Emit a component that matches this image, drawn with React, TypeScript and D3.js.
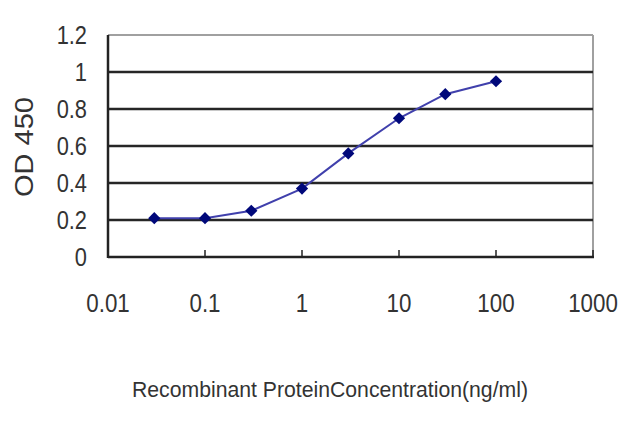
import React, { useEffect, useRef } from 'react';
import * as d3 from 'd3';

const concentrations = [0.03, 0.1, 0.3, 1, 3, 10, 30, 100];
const odValues = [0.21, 0.21, 0.25, 0.37, 0.56, 0.75, 0.88, 0.95];
const xTicks = [0.01, 0.1, 1, 10, 100, 1000];
const xTickLabels = ['0.01', '0.1', '1', '10', '100', '1000'];
const yTicks = [0, 0.2, 0.4, 0.6, 0.8, 1, 1.2];
const yTickLabels = ['0', '0.2', '0.4', '0.6', '0.8', '1', '1.2'];

const App = () => {
  const ref = useRef(null);

  useEffect(() => {
    if (!ref.current) return;
    const svg = d3.select(ref.current);
    svg.selectAll('*').remove();

    const left = 108, right = 593, top = 35, bottom = 257;
    const x = d3.scaleLog().domain([0.01, 1000]).range([left, right]);
    const y = d3.scaleLinear().domain([0, 1.2]).range([bottom, top]);
    const font = 'Arial, "Liberation Sans", sans-serif';

    svg.append('rect').attr('width', 640).attr('height', 427).attr('fill', '#fff');

    // plot frame: grey top / right
    svg.append('line')
      .attr('x1', left).attr('x2', right).attr('y1', y(1.2)).attr('y2', y(1.2))
      .attr('stroke', '#a0a0a0').attr('stroke-width', 2);
    svg.append('line')
      .attr('x1', right).attr('x2', right).attr('y1', top).attr('y2', bottom)
      .attr('stroke', '#a0a0a0').attr('stroke-width', 2);

    // gridlines
    svg.append('g').selectAll('line')
      .data(yTicks.filter(v => v > 0 && v < 1.2))
      .enter().append('line')
      .attr('x1', left).attr('x2', right)
      .attr('y1', d => y(d)).attr('y2', d => y(d))
      .attr('stroke', '#262626').attr('stroke-width', 2.5);

    // axes
    svg.append('line')
      .attr('x1', left).attr('x2', left).attr('y1', top).attr('y2', bottom + 1)
      .attr('stroke', '#222').attr('stroke-width', 2.5);
    svg.append('line')
      .attr('x1', left).attr('x2', right + 1).attr('y1', bottom).attr('y2', bottom)
      .attr('stroke', '#222').attr('stroke-width', 2.5);

    // x ticks (inside)
    svg.append('g').selectAll('line')
      .data(xTicks.slice(1))
      .enter().append('line')
      .attr('x1', d => x(d)).attr('x2', d => x(d))
      .attr('y1', bottom - 7).attr('y2', bottom)
      .attr('stroke', '#222').attr('stroke-width', 1.5);

    // y tick labels
    svg.append('g').selectAll('text')
      .data(yTicks)
      .enter().append('text')
      .attr('transform', d => `translate(87,${y(d) + 9}) scale(0.84,1)`)
      .attr('text-anchor', 'end')
      .attr('font-family', font).attr('font-size', 26).attr('fill', '#333')
      .text((d, i) => yTickLabels[i]);

    // x tick labels
    svg.append('g').selectAll('text')
      .data(xTicks)
      .enter().append('text')
      .attr('transform', d => `translate(${x(d)},312) scale(0.86,1)`)
      .attr('text-anchor', 'middle')
      .attr('font-family', font).attr('font-size', 26).attr('fill', '#333')
      .text((d, i) => xTickLabels[i]);

    // axis titles
    svg.append('text')
      .attr('transform', `translate(33,147) rotate(-90)`)
      .attr('text-anchor', 'middle')
      .attr('font-family', font).attr('font-size', 25).attr('fill', '#333')
      .attr('textLength', 100).attr('lengthAdjust', 'spacingAndGlyphs')
      .text('OD 450');

    svg.append('text')
      .attr('x', 132).attr('y', 397)
      .attr('font-family', font).attr('font-size', 22).attr('fill', '#333')
      .attr('textLength', 396).attr('lengthAdjust', 'spacingAndGlyphs')
      .text('Recombinant ProteinConcentration(ng/ml)');

    const pts = concentrations.map((c, i) => [c, odValues[i]] as [number, number]);

    svg.append('path')
      .datum(pts)
      .attr('d', d3.line<[number, number]>().x(d => x(d[0])).y(d => y(d[1])))
      .attr('fill', 'none').attr('stroke', '#4040ac').attr('stroke-width', 2);

    svg.append('g').selectAll('path')
      .data(pts)
      .enter().append('path')
      .attr('d', d3.symbol().type(d3.symbolSquare).size(75))
      .attr('transform', d => `translate(${x(d[0])},${y(d[1])}) rotate(45)`)
      .attr('fill', '#00087a');
  }, []);

  return (
    <svg
      ref={ref}
      width={640}
      height={427}
      style={{ position: 'absolute', left: 0, top: 0 }}
    />
  );
};

export default App;
